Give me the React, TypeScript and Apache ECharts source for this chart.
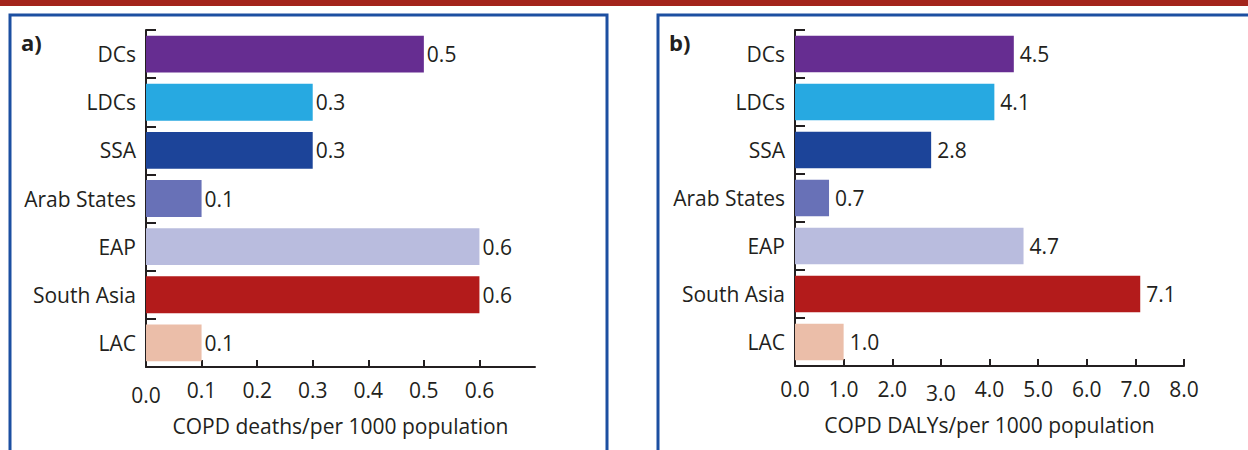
import React, { useEffect, useRef } from "react";
import * as echarts from "echarts";

const categories = ["DCs", "LDCs", "SSA", "Arab States", "EAP", "South Asia", "LAC"];
const deathsValues = [0.5, 0.3, 0.3, 0.1, 0.6, 0.6, 0.1];
const dalysValues = [4.5, 4.1, 2.8, 0.7, 4.7, 7.1, 1.0];
const barColors = ["#662d91", "#27a9e1", "#1c4499", "#6871b7", "#b9bcde", "#b31b1b", "#ebbea9"];
const deathsTicks = [0, 0.1, 0.2, 0.3, 0.4, 0.5, 0.6];
const dalysTicks = [0, 1, 2, 3, 4, 5, 6, 7, 8];
const deathsTitle = "COPD deaths/per 1000 population";
const dalysTitle = "COPD DALYs/per 1000 population";

const FONT = "'Open Sans', sans-serif";
const TXT = "#231f20";
const FS = 21;

export default function App() {
  const ref = useRef<HTMLDivElement>(null);
  useEffect(() => {
    if (!ref.current) return;
    const chart = echarts.init(ref.current, null, { renderer: "svg" });
    const makeX = (idx: number, max: number, ticks: number[], title: string, low: number, lowPad: number) => ({
      type: "value",
      gridIndex: idx,
      min: 0,
      max,
      interval: idx === 0 ? 0.1 : 1,
      splitLine: { show: false },
      axisLine: { show: true, lineStyle: { color: TXT, width: 2 } },
      axisTick: {
        show: true,
        inside: true,
        length: 7,
        lineStyle: { color: TXT, width: 2 },
        customValues: ticks.filter((t) => t !== 0),
      },
      axisLabel: {
        show: true,
        customValues: ticks,
        margin: 12,
        fontFamily: FONT,
        fontSize: FS,
        color: TXT,
        formatter: (v: number) => {
          const s = v.toFixed(1);
          return Math.abs(v - low) < 1e-9 ? "{low|" + s + "}" : s;
        },
        rich: {
          low: { fontFamily: FONT, fontSize: FS, color: TXT, padding: [lowPad, 0, 0, 0] },
        },
      },
      name: title,
      nameLocation: "middle",
      nameGap: 48,
      nameTextStyle: { fontFamily: FONT, fontSize: FS, color: TXT },
    });
    const makeY = (idx: number) => ({
      type: "category",
      gridIndex: idx,
      data: categories,
      inverse: true,
      axisLine: { show: true, lineStyle: { color: TXT, width: 2 } },
      axisTick: { show: true, inside: true, length: 10, lineStyle: { color: TXT, width: 2 } },
      axisLabel: { margin: 10, fontFamily: FONT, fontSize: FS, color: TXT },
    });
    const makeSeries = (idx: number, values: number[], dist: number) => ({
      type: "bar",
      xAxisIndex: idx,
      yAxisIndex: idx,
      barCategoryGap: "23.5%",
      data: values.map((v, i) => ({ value: v, itemStyle: { color: barColors[i] } })),
      label: {
        show: true,
        position: "right",
        distance: dist,
        fontFamily: FONT,
        fontSize: FS,
        color: TXT,
        formatter: (p: any) => Number(p.value).toFixed(1),
      },
    });
    chart.setOption({
      animation: false,
      grid: [
        { left: 146, top: 30, width: 389, height: 337 },
        { left: 795, top: 30, width: 389, height: 336 },
      ],
      xAxis: [
        makeX(0, 0.7, deathsTicks, deathsTitle, 0, 5),
        makeX(1, 8, dalysTicks, dalysTitle, 3, 4),
      ],
      yAxis: [makeY(0), makeY(1)],
      series: [makeSeries(0, deathsValues, 3), makeSeries(1, dalysValues, 6)],
      graphic: [
        { type: "rect", shape: { x: 0, y: 0, width: 1248, height: 6 }, style: { fill: "#a3241c" }, silent: true },
        {
          type: "rect",
          shape: { x: 10, y: 15, width: 597, height: 450 },
          style: { fill: "none", stroke: "#1c4fa1", lineWidth: 3 },
          silent: true,
        },
        {
          type: "rect",
          shape: { x: 658, y: 15, width: 610, height: 450 },
          style: { fill: "none", stroke: "#1c4fa1", lineWidth: 3 },
          silent: true,
        },
        {
          type: "text",
          x: 21,
          y: 31,
          style: { text: "a)", fontFamily: FONT, fontWeight: "bold", fontSize: 22, fill: TXT },
        },
        {
          type: "text",
          x: 669,
          y: 31,
          style: { text: "b)", fontFamily: FONT, fontWeight: "bold", fontSize: 22, fill: TXT },
        },
      ],
    });
    return () => chart.dispose();
  }, []);
  return (
    <div
      ref={ref}
      style={{ position: "fixed", left: 0, top: 0, width: 1248, height: 450, background: "#fff" }}
    />
  );
}
